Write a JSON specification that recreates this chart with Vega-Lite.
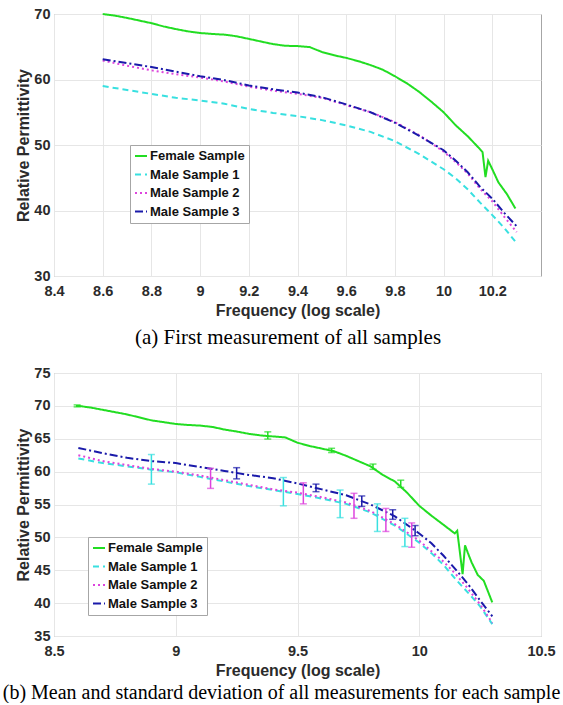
{
  "$schema": "https://vega.github.io/schema/vega-lite/v6.json",
  "padding": {"left": 2, "top": 5, "right": 0, "bottom": 0},
  "background": "white",
  "spacing": 16,
  "config": {
    "view": {"stroke": "#a6a6a6", "strokeWidth": 1},
    "axis": {
      "labelFont": "Liberation Sans", "labelFontWeight": "bold", "labelFontSize": 14.5, "labelColor": "#2b2b2b",
      "titleFont": "Liberation Sans", "titleFontWeight": "bold", "titleFontSize": 16, "titleColor": "#2b2b2b",
      "grid": true, "gridColor": "#e6e6e6", "domain": false, "ticks": false, "tickSize": 0,
      "labelFlush": false, "labelOverlap": false
    },
    "axisX": {"labelPadding": 8, "titlePadding": 5},
    "axisY": {"labelPadding": 4, "titlePadding": 2},
    "legend": {
      "title": null, "fillColor": "white", "strokeColor": "#a6a6a6", "padding": 4,
      "labelFont": "Liberation Sans", "labelFontWeight": "bold", "labelFontSize": 13, "labelColor": "#111111",
      "symbolType": "stroke", "symbolSize": 144, "symbolStrokeWidth": 2, "rowPadding": 4.5, "labelOffset": 2
    }
  },
  "datasets": {
    "topData": [
      {"series": "Female Sample", "f": 8.6, "v": 70.0},
      {"series": "Female Sample", "f": 8.65, "v": 69.75},
      {"series": "Female Sample", "f": 8.7, "v": 69.4},
      {"series": "Female Sample", "f": 8.75, "v": 69.0},
      {"series": "Female Sample", "f": 8.8, "v": 68.6},
      {"series": "Female Sample", "f": 8.85, "v": 68.1},
      {"series": "Female Sample", "f": 8.9, "v": 67.7},
      {"series": "Female Sample", "f": 8.95, "v": 67.35},
      {"series": "Female Sample", "f": 9.0, "v": 67.1},
      {"series": "Female Sample", "f": 9.05, "v": 66.95},
      {"series": "Female Sample", "f": 9.1, "v": 66.85},
      {"series": "Female Sample", "f": 9.15, "v": 66.6},
      {"series": "Female Sample", "f": 9.2, "v": 66.2},
      {"series": "Female Sample", "f": 9.25, "v": 65.8},
      {"series": "Female Sample", "f": 9.3, "v": 65.4},
      {"series": "Female Sample", "f": 9.35, "v": 65.15},
      {"series": "Female Sample", "f": 9.4, "v": 65.1},
      {"series": "Female Sample", "f": 9.45, "v": 64.95},
      {"series": "Female Sample", "f": 9.5, "v": 64.2},
      {"series": "Female Sample", "f": 9.55, "v": 63.7},
      {"series": "Female Sample", "f": 9.6, "v": 63.3},
      {"series": "Female Sample", "f": 9.65, "v": 62.8},
      {"series": "Female Sample", "f": 9.7, "v": 62.2},
      {"series": "Female Sample", "f": 9.75, "v": 61.5},
      {"series": "Female Sample", "f": 9.8, "v": 60.5},
      {"series": "Female Sample", "f": 9.85, "v": 59.4},
      {"series": "Female Sample", "f": 9.9, "v": 58.1},
      {"series": "Female Sample", "f": 9.95, "v": 56.6},
      {"series": "Female Sample", "f": 10.0, "v": 55.0},
      {"series": "Female Sample", "f": 10.05, "v": 53.0},
      {"series": "Female Sample", "f": 10.1, "v": 51.3},
      {"series": "Female Sample", "f": 10.146, "v": 49.5},
      {"series": "Female Sample", "f": 10.16, "v": 48.9},
      {"series": "Female Sample", "f": 10.172, "v": 45.1},
      {"series": "Female Sample", "f": 10.183, "v": 47.6},
      {"series": "Female Sample", "f": 10.2, "v": 46.3},
      {"series": "Female Sample", "f": 10.225, "v": 44.3},
      {"series": "Female Sample", "f": 10.26, "v": 42.5},
      {"series": "Female Sample", "f": 10.295, "v": 40.3},
      {"series": "Male Sample 1", "f": 8.6, "v": 59.0},
      {"series": "Male Sample 1", "f": 8.7, "v": 58.4},
      {"series": "Male Sample 1", "f": 8.8, "v": 57.8},
      {"series": "Male Sample 1", "f": 8.9, "v": 57.2},
      {"series": "Male Sample 1", "f": 9.0, "v": 56.8},
      {"series": "Male Sample 1", "f": 9.1, "v": 56.3},
      {"series": "Male Sample 1", "f": 9.2, "v": 55.5},
      {"series": "Male Sample 1", "f": 9.3, "v": 54.9},
      {"series": "Male Sample 1", "f": 9.4, "v": 54.4},
      {"series": "Male Sample 1", "f": 9.5, "v": 53.8},
      {"series": "Male Sample 1", "f": 9.6, "v": 53.0},
      {"series": "Male Sample 1", "f": 9.7, "v": 52.0},
      {"series": "Male Sample 1", "f": 9.8, "v": 50.6},
      {"series": "Male Sample 1", "f": 9.9, "v": 48.6},
      {"series": "Male Sample 1", "f": 10.0, "v": 46.3},
      {"series": "Male Sample 1", "f": 10.05, "v": 44.9},
      {"series": "Male Sample 1", "f": 10.1, "v": 43.2},
      {"series": "Male Sample 1", "f": 10.15, "v": 41.2},
      {"series": "Male Sample 1", "f": 10.2, "v": 39.3},
      {"series": "Male Sample 1", "f": 10.25, "v": 37.3},
      {"series": "Male Sample 1", "f": 10.3, "v": 35.0},
      {"series": "Male Sample 2", "f": 8.6, "v": 62.9},
      {"series": "Male Sample 2", "f": 8.7, "v": 62.1},
      {"series": "Male Sample 2", "f": 8.8, "v": 61.4},
      {"series": "Male Sample 2", "f": 8.9, "v": 60.8},
      {"series": "Male Sample 2", "f": 9.0, "v": 60.3},
      {"series": "Male Sample 2", "f": 9.1, "v": 59.7},
      {"series": "Male Sample 2", "f": 9.2, "v": 58.9},
      {"series": "Male Sample 2", "f": 9.3, "v": 58.3},
      {"series": "Male Sample 2", "f": 9.4, "v": 57.8},
      {"series": "Male Sample 2", "f": 9.5, "v": 57.2},
      {"series": "Male Sample 2", "f": 9.6, "v": 56.1},
      {"series": "Male Sample 2", "f": 9.7, "v": 55.0},
      {"series": "Male Sample 2", "f": 9.8, "v": 53.5},
      {"series": "Male Sample 2", "f": 9.9, "v": 51.5},
      {"series": "Male Sample 2", "f": 10.0, "v": 49.0},
      {"series": "Male Sample 2", "f": 10.05, "v": 47.4},
      {"series": "Male Sample 2", "f": 10.1, "v": 45.6},
      {"series": "Male Sample 2", "f": 10.15, "v": 43.3},
      {"series": "Male Sample 2", "f": 10.2, "v": 41.4},
      {"series": "Male Sample 2", "f": 10.25, "v": 39.0},
      {"series": "Male Sample 2", "f": 10.3, "v": 36.7},
      {"series": "Male Sample 3", "f": 8.6, "v": 63.1},
      {"series": "Male Sample 3", "f": 8.7, "v": 62.5},
      {"series": "Male Sample 3", "f": 8.8, "v": 61.9},
      {"series": "Male Sample 3", "f": 8.9, "v": 61.2},
      {"series": "Male Sample 3", "f": 9.0, "v": 60.5},
      {"series": "Male Sample 3", "f": 9.1, "v": 59.9},
      {"series": "Male Sample 3", "f": 9.2, "v": 59.1},
      {"series": "Male Sample 3", "f": 9.3, "v": 58.5},
      {"series": "Male Sample 3", "f": 9.4, "v": 58.0},
      {"series": "Male Sample 3", "f": 9.5, "v": 57.3},
      {"series": "Male Sample 3", "f": 9.6, "v": 56.2},
      {"series": "Male Sample 3", "f": 9.7, "v": 55.0},
      {"series": "Male Sample 3", "f": 9.8, "v": 53.4},
      {"series": "Male Sample 3", "f": 9.9, "v": 51.4},
      {"series": "Male Sample 3", "f": 10.0, "v": 49.2},
      {"series": "Male Sample 3", "f": 10.05, "v": 47.6},
      {"series": "Male Sample 3", "f": 10.1, "v": 45.8},
      {"series": "Male Sample 3", "f": 10.15, "v": 43.6},
      {"series": "Male Sample 3", "f": 10.2, "v": 41.8},
      {"series": "Male Sample 3", "f": 10.25, "v": 39.6},
      {"series": "Male Sample 3", "f": 10.3, "v": 37.6}
    ],
    "bottomData": [
      {"series": "Female Sample", "f": 8.59, "v": 70.0},
      {"series": "Female Sample", "f": 8.6, "v": 70.0},
      {"series": "Female Sample", "f": 8.65, "v": 69.75},
      {"series": "Female Sample", "f": 8.7, "v": 69.4},
      {"series": "Female Sample", "f": 8.8, "v": 68.7},
      {"series": "Female Sample", "f": 8.9, "v": 67.8},
      {"series": "Female Sample", "f": 9.0, "v": 67.25},
      {"series": "Female Sample", "f": 9.05, "v": 67.1},
      {"series": "Female Sample", "f": 9.1, "v": 67.0},
      {"series": "Female Sample", "f": 9.15, "v": 66.8},
      {"series": "Female Sample", "f": 9.2, "v": 66.4},
      {"series": "Female Sample", "f": 9.25, "v": 66.1},
      {"series": "Female Sample", "f": 9.3, "v": 65.75},
      {"series": "Female Sample", "f": 9.35, "v": 65.5},
      {"series": "Female Sample", "f": 9.4, "v": 65.35},
      {"series": "Female Sample", "f": 9.45, "v": 65.2},
      {"series": "Female Sample", "f": 9.5, "v": 64.4},
      {"series": "Female Sample", "f": 9.55, "v": 63.9},
      {"series": "Female Sample", "f": 9.6, "v": 63.5},
      {"series": "Female Sample", "f": 9.65, "v": 63.1},
      {"series": "Female Sample", "f": 9.7, "v": 62.4},
      {"series": "Female Sample", "f": 9.75, "v": 61.6},
      {"series": "Female Sample", "f": 9.8, "v": 60.8},
      {"series": "Female Sample", "f": 9.85, "v": 59.5},
      {"series": "Female Sample", "f": 9.9, "v": 58.5},
      {"series": "Female Sample", "f": 9.95, "v": 56.8},
      {"series": "Female Sample", "f": 10.0, "v": 54.8},
      {"series": "Female Sample", "f": 10.05, "v": 53.3},
      {"series": "Female Sample", "f": 10.1, "v": 51.9},
      {"series": "Female Sample", "f": 10.146, "v": 50.6},
      {"series": "Female Sample", "f": 10.156, "v": 51.0},
      {"series": "Female Sample", "f": 10.178, "v": 44.4},
      {"series": "Female Sample", "f": 10.188, "v": 48.8},
      {"series": "Female Sample", "f": 10.2, "v": 47.6},
      {"series": "Female Sample", "f": 10.215, "v": 46.2},
      {"series": "Female Sample", "f": 10.24, "v": 44.3},
      {"series": "Female Sample", "f": 10.265, "v": 43.4},
      {"series": "Female Sample", "f": 10.3, "v": 40.1},
      {"series": "Male Sample 1", "f": 8.6, "v": 62.0},
      {"series": "Male Sample 1", "f": 8.7, "v": 61.3},
      {"series": "Male Sample 1", "f": 8.8, "v": 60.8},
      {"series": "Male Sample 1", "f": 8.9, "v": 60.3},
      {"series": "Male Sample 1", "f": 9.0, "v": 59.9},
      {"series": "Male Sample 1", "f": 9.1, "v": 59.2},
      {"series": "Male Sample 1", "f": 9.2, "v": 58.5},
      {"series": "Male Sample 1", "f": 9.3, "v": 57.8},
      {"series": "Male Sample 1", "f": 9.4, "v": 57.2},
      {"series": "Male Sample 1", "f": 9.5, "v": 56.6},
      {"series": "Male Sample 1", "f": 9.6, "v": 55.9},
      {"series": "Male Sample 1", "f": 9.7, "v": 55.1},
      {"series": "Male Sample 1", "f": 9.8, "v": 53.8},
      {"series": "Male Sample 1", "f": 9.9, "v": 51.8},
      {"series": "Male Sample 1", "f": 10.0, "v": 49.2},
      {"series": "Male Sample 1", "f": 10.05, "v": 47.6},
      {"series": "Male Sample 1", "f": 10.1, "v": 45.8},
      {"series": "Male Sample 1", "f": 10.15, "v": 43.6},
      {"series": "Male Sample 1", "f": 10.2, "v": 41.6},
      {"series": "Male Sample 1", "f": 10.25, "v": 39.5},
      {"series": "Male Sample 1", "f": 10.3, "v": 36.8},
      {"series": "Male Sample 2", "f": 8.6, "v": 62.5},
      {"series": "Male Sample 2", "f": 8.7, "v": 61.6},
      {"series": "Male Sample 2", "f": 8.8, "v": 61.0},
      {"series": "Male Sample 2", "f": 8.9, "v": 60.4},
      {"series": "Male Sample 2", "f": 9.0, "v": 60.0},
      {"series": "Male Sample 2", "f": 9.1, "v": 59.4},
      {"series": "Male Sample 2", "f": 9.2, "v": 58.7},
      {"series": "Male Sample 2", "f": 9.3, "v": 58.0},
      {"series": "Male Sample 2", "f": 9.4, "v": 57.3},
      {"series": "Male Sample 2", "f": 9.5, "v": 56.8},
      {"series": "Male Sample 2", "f": 9.6, "v": 56.1},
      {"series": "Male Sample 2", "f": 9.7, "v": 55.3},
      {"series": "Male Sample 2", "f": 9.8, "v": 54.0},
      {"series": "Male Sample 2", "f": 9.9, "v": 52.0},
      {"series": "Male Sample 2", "f": 10.0, "v": 49.5},
      {"series": "Male Sample 2", "f": 10.05, "v": 47.9},
      {"series": "Male Sample 2", "f": 10.1, "v": 46.3},
      {"series": "Male Sample 2", "f": 10.15, "v": 44.4},
      {"series": "Male Sample 2", "f": 10.2, "v": 42.2},
      {"series": "Male Sample 2", "f": 10.25, "v": 39.8},
      {"series": "Male Sample 2", "f": 10.3, "v": 37.0},
      {"series": "Male Sample 3", "f": 8.6, "v": 63.6},
      {"series": "Male Sample 3", "f": 8.7, "v": 62.8},
      {"series": "Male Sample 3", "f": 8.8, "v": 62.1},
      {"series": "Male Sample 3", "f": 8.9, "v": 61.6},
      {"series": "Male Sample 3", "f": 9.0, "v": 61.3},
      {"series": "Male Sample 3", "f": 9.1, "v": 60.7},
      {"series": "Male Sample 3", "f": 9.2, "v": 60.1},
      {"series": "Male Sample 3", "f": 9.3, "v": 59.5},
      {"series": "Male Sample 3", "f": 9.4, "v": 59.0},
      {"series": "Male Sample 3", "f": 9.5, "v": 58.2},
      {"series": "Male Sample 3", "f": 9.6, "v": 57.3},
      {"series": "Male Sample 3", "f": 9.7, "v": 56.4},
      {"series": "Male Sample 3", "f": 9.8, "v": 55.0},
      {"series": "Male Sample 3", "f": 9.9, "v": 53.2},
      {"series": "Male Sample 3", "f": 10.0, "v": 50.6},
      {"series": "Male Sample 3", "f": 10.05, "v": 49.1},
      {"series": "Male Sample 3", "f": 10.1, "v": 47.2},
      {"series": "Male Sample 3", "f": 10.15, "v": 45.1},
      {"series": "Male Sample 3", "f": 10.2, "v": 42.9},
      {"series": "Male Sample 3", "f": 10.25, "v": 40.4},
      {"series": "Male Sample 3", "f": 10.3, "v": 38.0}
    ],
    "bottomErr": [
      {"series": "Female Sample", "f": 8.595, "lo": 69.85, "hi": 70.15},
      {"series": "Female Sample", "f": 9.378, "lo": 64.95, "hi": 66.05},
      {"series": "Female Sample", "f": 9.64, "lo": 62.9, "hi": 63.55},
      {"series": "Female Sample", "f": 9.81, "lo": 60.35, "hi": 61.15},
      {"series": "Female Sample", "f": 9.924, "lo": 57.6, "hi": 58.7},
      {"series": "Male Sample 1", "f": 8.9, "lo": 58.1, "hi": 62.6},
      {"series": "Male Sample 1", "f": 9.442, "lo": 54.8, "hi": 59.1},
      {"series": "Male Sample 1", "f": 9.675, "lo": 53.0, "hi": 57.2},
      {"series": "Male Sample 1", "f": 9.828, "lo": 50.9, "hi": 55.1},
      {"series": "Male Sample 1", "f": 9.941, "lo": 48.6, "hi": 52.9},
      {"series": "Male Sample 2", "f": 9.143, "lo": 57.45, "hi": 60.5},
      {"series": "Male Sample 2", "f": 9.524, "lo": 55.1, "hi": 58.3},
      {"series": "Male Sample 2", "f": 9.732, "lo": 52.9, "hi": 56.7},
      {"series": "Male Sample 2", "f": 9.863, "lo": 50.9, "hi": 54.4},
      {"series": "Male Sample 2", "f": 9.969, "lo": 48.5, "hi": 52.2},
      {"series": "Male Sample 3", "f": 9.25, "lo": 58.9, "hi": 60.6},
      {"series": "Male Sample 3", "f": 9.576, "lo": 56.95, "hi": 58.1},
      {"series": "Male Sample 3", "f": 9.764, "lo": 54.7, "hi": 56.3},
      {"series": "Male Sample 3", "f": 9.891, "lo": 52.75, "hi": 54.2},
      {"series": "Male Sample 3", "f": 9.983, "lo": 50.25, "hi": 51.8}
    ]
  },
  "vconcat": [
    {
      "width": 487,
      "height": 262,
      "title": {"text": "(a) First measurement of all samples", "orient": "bottom", "anchor": "middle", "frame": "group", "dx": -9.5, "offset": 8, "font": "Liberation Serif", "fontSize": 21, "fontWeight": "normal", "color": "#000000"},
      "data": {"name": "topData"},
      "mark": {"type": "line", "strokeWidth": 2},
      "encoding": {
        "x": {"field": "f", "type": "quantitative", "scale": {"domain": [8.4, 10.4], "nice": false, "zero": false},
              "axis": {"title": "Frequency (log scale)", "values": [8.4, 8.6, 8.8, 9, 9.2, 9.4, 9.6, 9.8, 10, 10.2], "format": "~g"}},
        "y": {"field": "v", "type": "quantitative", "scale": {"domain": [30, 70], "nice": false, "zero": false},
              "axis": {"title": "Relative Permittivity", "values": [30, 40, 50, 60, 70]}},
        "color": {"field": "series", "type": "nominal",
                  "scale": {"domain": ["Female Sample", "Male Sample 1", "Male Sample 2", "Male Sample 3"], "range": ["#22dd22", "#38e0e0", "#dd44dd", "#1a1aaa"]},
                  "legend": {"orient": "none", "legendX": 76, "legendY": 131}},
        "strokeDash": {"field": "series", "type": "nominal",
                  "scale": {"domain": ["Female Sample", "Male Sample 1", "Male Sample 2", "Male Sample 3"], "range": [[1, 0], [6, 4], [2, 3], [8, 3, 2, 3]]},
                  "legend": {"orient": "none", "legendX": 76, "legendY": 131}}
      }
    },
    {
      "width": 487,
      "height": 263,
      "title": {"text": "(b) Mean and standard deviation of all measurements for each sample", "orient": "bottom", "anchor": "middle", "frame": "group", "dx": -16, "offset": 4, "font": "Liberation Serif", "fontSize": 20, "fontWeight": "normal", "color": "#000000"},
      "resolve": {"legend": {"color": "independent", "strokeDash": "independent"}},
      "layer": [
        {
          "data": {"name": "bottomData"},
          "mark": {"type": "line", "strokeWidth": 2},
          "encoding": {
            "x": {"field": "f", "type": "quantitative", "scale": {"domain": [8.5, 10.5], "nice": false, "zero": false},
                  "axis": {"title": "Frequency (log scale)", "values": [8.5, 9, 9.5, 10, 10.5], "format": "~g"}},
            "y": {"field": "v", "type": "quantitative", "scale": {"domain": [35, 75], "nice": false, "zero": false},
                  "axis": {"title": "Relative Permittivity", "values": [35, 40, 45, 50, 55, 60, 65, 70, 75]}},
            "color": {"field": "series", "type": "nominal",
                      "scale": {"domain": ["Female Sample", "Male Sample 1", "Male Sample 2", "Male Sample 3"], "range": ["#22dd22", "#38e0e0", "#dd44dd", "#1a1aaa"]},
                      "legend": {"orient": "none", "legendX": 34, "legendY": 164}},
            "strokeDash": {"field": "series", "type": "nominal",
                      "scale": {"domain": ["Female Sample", "Male Sample 1", "Male Sample 2", "Male Sample 3"], "range": [[1, 0], [6, 4], [2, 3], [8, 3, 2, 3]]},
                      "legend": {"orient": "none", "legendX": 34, "legendY": 164}}
          }
        },
        {
          "data": {"name": "bottomErr"},
          "mark": {"type": "errorbar", "ticks": {"size": 7, "thickness": 1.5}, "rule": {"strokeWidth": 1.5}},
          "encoding": {
            "x": {"field": "f", "type": "quantitative", "scale": {"domain": [8.5, 10.5], "nice": false, "zero": false},
                  "axis": {"title": "Frequency (log scale)", "values": [8.5, 9, 9.5, 10, 10.5], "format": "~g"}},
            "y": {"field": "lo", "type": "quantitative", "scale": {"domain": [35, 75], "nice": false, "zero": false},
                  "axis": {"title": "Relative Permittivity", "values": [35, 40, 45, 50, 55, 60, 65, 70, 75]}},
            "y2": {"field": "hi"},
            "color": {"field": "series", "type": "nominal",
                      "scale": {"domain": ["Female Sample", "Male Sample 1", "Male Sample 2", "Male Sample 3"], "range": ["#22dd22", "#38e0e0", "#dd44dd", "#1a1aaa"]},
                      "legend": null}
          }
        }
      ]
    }
  ]
}
